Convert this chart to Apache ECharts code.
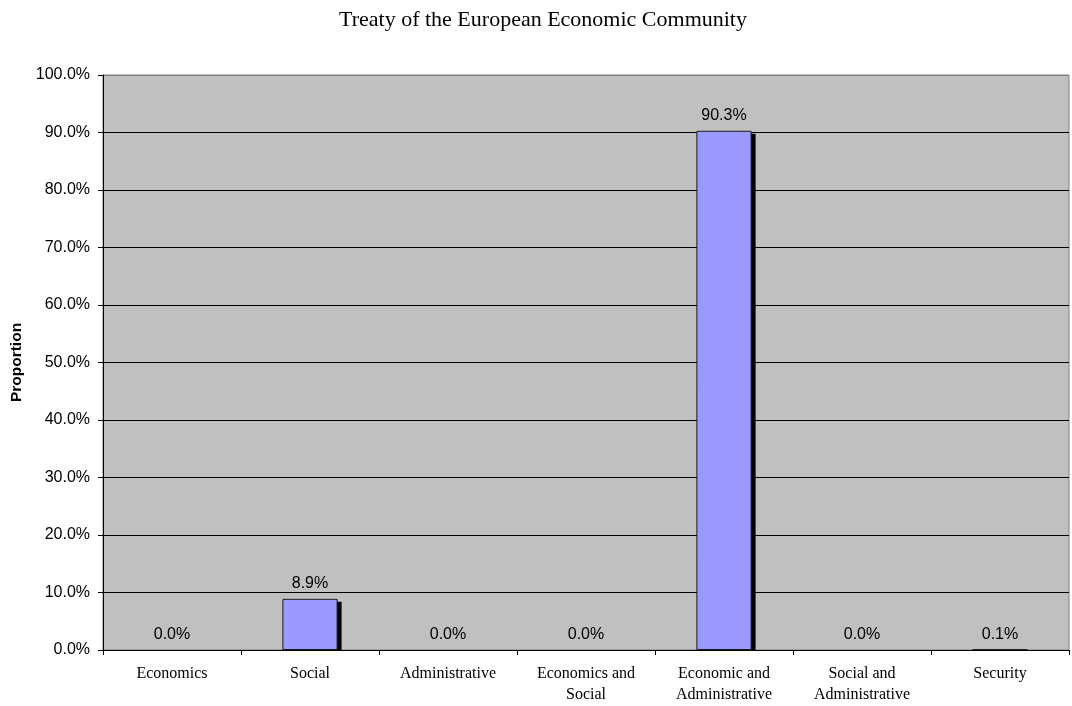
<!DOCTYPE html>
<html><head><meta charset="utf-8">
<script src="https://cdn.jsdelivr.net/npm/echarts@6/dist/echarts.min.js"></script>
<style>html,body{margin:0;padding:0;background:#fff}#c{width:1072px;height:706px}</style>
</head><body><div id="c"></div>
<script>
const categories = ["Economics","Social","Administrative","Economics and\nSocial","Economic and\nAdministrative","Social and\nAdministrative","Security"];
const proportions = [0.0, 8.9, 0.0, 0.0, 90.3, 0.0, 0.1];
const yTicks = {min:0, max:100, interval:10};

const BAR_FRAC = 0.4;
const splitColors = [];
for (let v = yTicks.min; v <= yTicks.max; v += yTicks.interval) splitColors.push(v === yTicks.max ? '#808080' : '#000');

const chart = echarts.init(document.getElementById('c'), null, {renderer:'canvas'});
chart.setOption({
  animation:false,
  backgroundColor:'#ffffff',
  title:{text:'Treaty of the European Economic Community',left:538,top:4,textAlign:'center',
    textStyle:{fontFamily:'Liberation Serif',fontSize:22,fontWeight:'normal',color:'#000'}},
  grid:{left:103,right:3,top:75,bottom:56,show:true,backgroundColor:'#C0C0C0',borderColor:'#808080',borderWidth:1},
  xAxis:{type:'category',data:categories,
    axisLine:{lineStyle:{color:'#000',width:1}},
    axisTick:{show:true,length:5,lineStyle:{color:'#000'}},
    axisLabel:{fontFamily:'Liberation Serif',fontSize:16,color:'#000',margin:13,lineHeight:21,interval:0}},
  yAxis:{type:'value',min:yTicks.min,max:yTicks.max,interval:yTicks.interval,
    name:'Proportion',nameLocation:'middle',nameGap:76,nameRotate:90,
    nameTextStyle:{fontFamily:'Liberation Sans',fontSize:15.5,fontWeight:'bold',color:'#000'},
    axisLine:{show:true,lineStyle:{color:'#000',width:1}},
    axisTick:{show:true,length:5,lineStyle:{color:'#000'}},
    axisLabel:{fontFamily:'Liberation Sans',fontSize:16,color:'#000',margin:13,formatter:v=>v.toFixed(1)+'%'},
    splitLine:{show:true,lineStyle:{color:splitColors,width:1}}},
  series:[
    {type:'custom',z:1,silent:true,
     data:proportions.map((v,i)=>[i,v]),
     encode:{x:0,y:1},
     renderItem:function(params, api){
       const idx = api.value(0), val = api.value(1);
       const top = api.coord([idx,val]);
       const base = api.coord([idx,0]);
       const w = api.size([1,0])[0]*BAR_FRAC;
       const h = base[1]-top[1]-3;
       if (h <= 0) return null;
       return {type:'rect',shape:{x:top[0]-w/2+4,y:top[1]+3,width:w,height:h},style:{fill:'#000'}};
     }},
    {type:'bar',z:2,barWidth:(BAR_FRAC*100)+'%',
     data:proportions.map(v=>v===0?{value:v,itemStyle:{borderWidth:0,color:'rgba(0,0,0,0)'}}:v),
     itemStyle:{color:'#9999FF',borderColor:'#1a1a1a',borderWidth:1},
     label:{show:true,position:'top',distance:7,fontFamily:'Liberation Sans',fontSize:16,color:'#000',formatter:p=>Number(p.value).toFixed(1)+'%'}}
  ]
});
</script></body></html>
